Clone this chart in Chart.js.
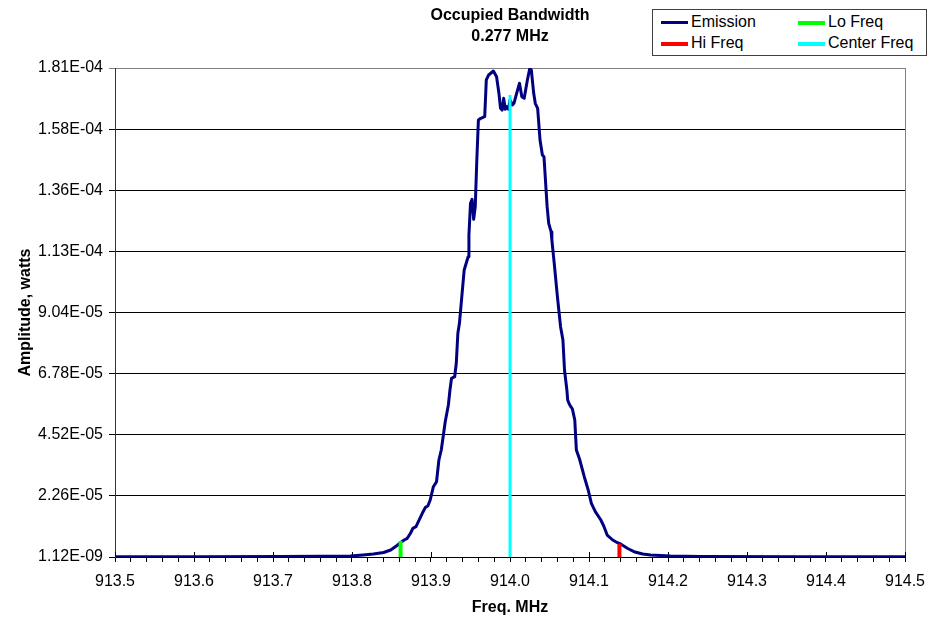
<!DOCTYPE html>
<html>
<head>
<meta charset="utf-8">
<script src="https://cdn.jsdelivr.net/npm/chart.js@4/dist/chart.umd.min.js"></script>
<style>
  body { margin: 0; background: #fff; }
  #wrap { position: relative; width: 930px; height: 622px; }
  #legend {
    position: absolute; left: 652px; top: 9px; width: 273px; height: 45px;
    border: 1px solid #404040; background: #fff;
    font: 16px "Liberation Sans", Arial, sans-serif; color: #000;
  }
  #legend .item { position: absolute; height: 20px; line-height: 20px; white-space: nowrap; }
  #legend .swatch { display: inline-block; width: 27px; vertical-align: middle; margin-right: 3px; }
</style>
</head>
<body>
<div id="wrap">
  <canvas id="chart" width="930" height="622"></canvas>
  <div id="legend"></div>
</div>
<script>
// ---- data ----
const freqMHz = [913.500, 913.608, 913.709, 913.760, 913.798, 913.814, 913.827, 913.840, 913.849, 913.857,
  913.863, 913.866, 913.870, 913.874, 913.877, 913.881, 913.884, 913.889, 913.893, 913.896,
  913.899, 913.903, 913.907, 913.910, 913.913, 913.916, 913.918, 913.922, 913.924, 913.926,
  913.930, 913.932, 913.934, 913.936, 913.939, 913.942, 913.947, 913.948, 913.950, 913.952,
  913.954, 913.956, 913.958, 913.960, 913.963, 913.968, 913.970, 913.973, 913.979, 913.983,
  913.986, 913.988, 913.990, 913.992, 913.994, 913.996, 913.998, 914.000, 914.003, 914.005,
  914.009, 914.012, 914.015, 914.018, 914.022, 914.025, 914.027, 914.030, 914.032, 914.035,
  914.038, 914.041, 914.043, 914.047, 914.049, 914.052, 914.053, 914.056, 914.060, 914.064,
  914.067, 914.069, 914.072, 914.073, 914.075, 914.077, 914.079, 914.082, 914.084, 914.088,
  914.094, 914.099, 914.103, 914.108, 914.115, 914.119, 914.123, 914.130, 914.136, 914.140,
  914.149, 914.157, 914.168, 914.178, 914.203, 914.241, 914.368, 914.500];

// emission amplitude in units of 1e-5 W
const emissionE5 = [0.007, 0.011, 0.018, 0.030, 0.037, 0.074, 0.111, 0.166, 0.259, 0.425,
  0.566, 0.629, 0.691, 0.876, 1.061, 1.120, 1.305, 1.616, 1.838, 1.886,
  2.108, 2.599, 2.784, 3.587, 3.956, 4.574, 5.003, 5.620, 6.175, 6.607,
  6.666, 7.162, 8.271, 8.641, 9.624, 10.612, 11.103, 11.906, 13.077, 13.226,
  12.486, 12.952, 14.679, 16.158, 16.220, 16.280, 17.637, 17.822, 17.969, 17.759,
  17.145, 16.590, 16.525, 16.960, 16.553, 16.650, 16.553, 16.897, 16.712, 16.775,
  17.204, 17.514, 17.019, 16.960, 17.637, 18.060, 18.006, 17.145, 16.775, 16.590,
  15.418, 14.864, 14.801, 12.952, 12.338, 12.028, 11.721, 10.859, 9.624, 8.515,
  8.023, 6.914, 6.175, 5.805, 5.657, 5.557, 5.472, 5.065, 3.956, 3.623,
  2.969, 2.477, 1.985, 1.675, 1.368, 1.120, 0.813, 0.629, 0.529, 0.481,
  0.314, 0.196, 0.111, 0.074, 0.037, 0.018, 0.011, 0.007];

const markerNames = ["Lo Freq", "Hi Freq", "Center Freq"];
const markerFreqs = [913.8615, 914.1385, 914.0];
const markerTops = [5.9e-6, 4.9e-6, 1.708e-4];
const markerColors = ["#00ff00", "#ff0000", "#00ffff"];

const xTickLabels = ["913.5", "913.6", "913.7", "913.8", "913.9", "914.0", "914.1", "914.2", "914.3", "914.4", "914.5"];
const xMinorPerMajor = 5;
const yTickLabels = ["1.12E-09", "2.26E-05", "4.52E-05", "6.78E-05", "9.04E-05", "1.13E-04", "1.36E-04", "1.58E-04", "1.81E-04"];
const yTickValues = [1.12e-9, 2.26e-5, 4.52e-5, 6.78e-5, 9.04e-5, 1.130e-4, 1.356e-4, 1.582e-4, 1.808e-4];

const titleLines = ["Occupied Bandwidth", "0.277 MHz"];

// ---- chart ----
Chart.defaults.font.family = '"Liberation Sans", Arial, sans-serif';
Chart.defaults.font.size = 16;
Chart.defaults.color = "#000";

const datasets = [{
  label: "Emission",
  data: freqMHz.map((f, i) => ({ x: f, y: emissionE5[i] * 1e-5 })),
  borderColor: "#000080",
  borderWidth: 3,
  pointRadius: 0,
  tension: 0,
  borderJoinStyle: "round",
  order: 4
}];
markerNames.forEach((name, i) => {
  datasets.push({
    label: name,
    data: [{ x: markerFreqs[i], y: yTickValues[0] }, { x: markerFreqs[i], y: markerTops[i] }],
    borderColor: markerColors[i],
    borderWidth: name === "Center Freq" ? 3 : 4,
    pointRadius: 0,
    order: i + 1
  });
});

// gray frame on the right edge, and major x ticks poking up into the plot
const plotFrame = {
  id: "plotFrame",
  beforeDatasetsDraw(chart) {
    const a = chart.chartArea, ctx = chart.ctx, xs = chart.scales.x;
    ctx.save();
    ctx.strokeStyle = "#808080";
    ctx.lineWidth = 1;
    ctx.beginPath();
    ctx.moveTo(Math.round(a.right) + 0.5, a.top);
    ctx.lineTo(Math.round(a.right) + 0.5, a.bottom);
    ctx.stroke();
    ctx.strokeStyle = "#000";
    ctx.beginPath();
    xs.ticks.forEach((t, i) => {
      if (i % xMinorPerMajor) return;
      const px = Math.round(xs.getPixelForValue(t.value)) + 0.5;
      ctx.moveTo(px, a.bottom - 5);
      ctx.lineTo(px, a.bottom);
    });
    ctx.stroke();
    ctx.restore();
  }
};

new Chart(document.getElementById("chart"), {
  type: "line",
  data: { datasets },
  plugins: [plotFrame],
  options: {
    responsive: false,
    animation: false,
    devicePixelRatio: 1,
    layout: { padding: { left: 0, right: 25, top: 0, bottom: 0 } },
    plugins: {
      legend: { display: false },
      tooltip: { enabled: false },
      title: {
        display: true,
        text: titleLines,
        fullSize: false,
        font: { size: 16, weight: "bold", lineHeight: 1.3125 },
        color: "#000",
        padding: { top: 5, bottom: 21 }
      }
    },
    scales: {
      x: {
        type: "linear",
        min: 913.5,
        max: 914.5,
        afterBuildTicks: s => {
          const n = (xTickLabels.length - 1) * xMinorPerMajor;
          const t = [];
          for (let i = 0; i <= n; i++) t.push({ value: 913.5 + i / n });
          s.ticks = t;
        },
        afterFit: s => { s.height = 65; s.paddingRight = 0; s.paddingLeft = 0; },
        ticks: {
          autoSkip: false,
          maxRotation: 0,
          padding: 10,
          callback: (v, i) => i % xMinorPerMajor === 0 ? xTickLabels[i / xMinorPerMajor] : ""
        },
        grid: { display: true, drawOnChartArea: false, drawTicks: true, tickLength: 5, color: "#000" },
        border: { display: true, color: "#000", width: 1 },
        title: {
          display: true,
          text: "Freq. MHz",
          font: { size: 16, weight: "bold" },
          padding: { top: 0, bottom: 5 }
        }
      },
      y: {
        type: "linear",
        min: yTickValues[0],
        max: yTickValues[yTickValues.length - 1],
        afterBuildTicks: s => { s.ticks = yTickValues.map(v => ({ value: v })); },
        afterFit: s => { s.width = 115; },
        ticks: {
          padding: 6,
          callback: (v, i) => yTickLabels[i]
        },
        grid: {
          color: c => c.index === yTickValues.length - 1 ? "#808080" : "#000",
          tickLength: 6
        },
        border: { display: true, color: "#333", width: 1 },
        title: {
          display: true,
          text: "Amplitude, watts",
          font: { size: 16, weight: "bold" },
          padding: { top: 16, bottom: 0 }
        }
      }
    }
  }
});

// legend (two columns, as in the reference)
const legendItems = [
  { name: "Emission", color: "#000080", w: 3, left: 8, top: 2 },
  { name: markerNames[0], color: markerColors[0], w: 4, left: 145, top: 2 },
  { name: markerNames[1], color: markerColors[1], w: 4, left: 8, top: 23 },
  { name: markerNames[2], color: markerColors[2], w: 4, left: 145, top: 23 }
];
const legend = document.getElementById("legend");
legendItems.forEach(it => {
  const d = document.createElement("div");
  d.className = "item";
  d.style.left = it.left + "px";
  d.style.top = it.top + "px";
  d.innerHTML = `<span class="swatch" style="border-top:${it.w}px solid ${it.color}"></span>${it.name}`;
  legend.appendChild(d);
});
</script>
</body>
</html>
